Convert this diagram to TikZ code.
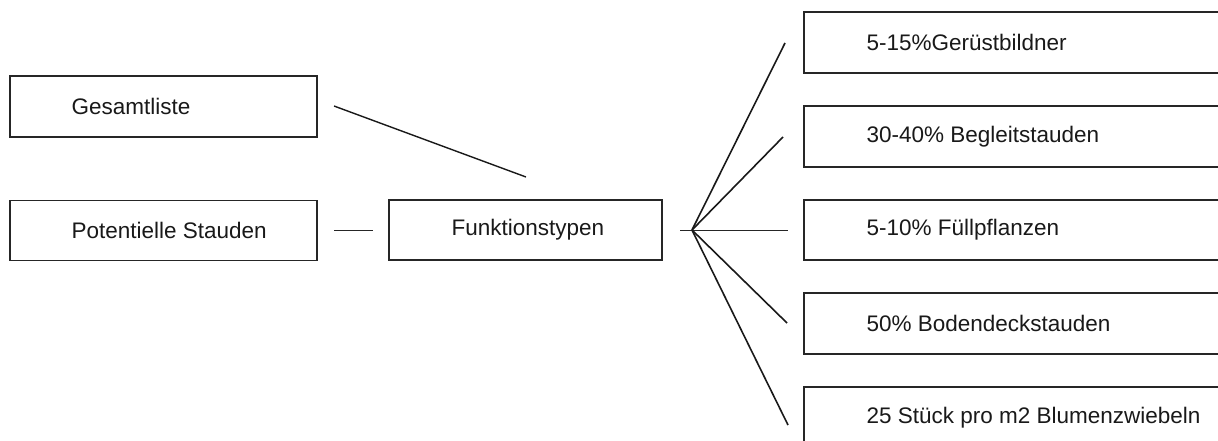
\documentclass[tikz,border=0pt]{standalone}
\usepackage{fontspec}
\setmainfont{Liberation Sans}
\begin{document}
\begin{tikzpicture}[x=1pt,y=-1pt,
  box/.style={draw=black!85, line width=1.3pt, rectangle, inner sep=0pt},
  lbl/.style={anchor=west, inner sep=0pt, font=\fontsize{22.5}{26}\selectfont, text=black!90},
  thin/.style={line width=1pt, draw=black!85},
  ray/.style={line width=1.6pt, draw=black!90}]
\useasboundingbox (0,0) rectangle (1218,441);
\clip (0,0) rectangle (1218,441);

% left column
\node[box, minimum width=307pt, minimum height=61pt] (ges) at (163.5,106.5) {};
\node[lbl] (gesT) at ([xshift=62pt]ges.west) {Gesamtliste};
\node[box, minimum width=307pt, minimum height=60pt] (pot) at (163.5,230.5) {};
\node[lbl] (potT) at ([xshift=62pt]pot.west) {Potentielle Stauden};

% centre
\node[box, minimum width=273pt, minimum height=60pt] (fun) at (525.5,230) {};
\node[lbl] (funT) at ([xshift=63pt]fun.west) {Funktionstypen};

% right column (boxes run off the right edge)
\node[box, minimum width=430pt, minimum height=61pt] (r1) at (1019,42.5) {};
\node[lbl] (r1T) at ([xshift=63pt]r1.west) {5-15\%Gerüstbildner};
\node[box, minimum width=430pt, minimum height=61pt] (r2) at (1019,136.5) {};
\node[lbl] (r2T) at ([xshift=63pt]r2.west) {30-40\% Begleitstauden};
\node[box, minimum width=430pt, minimum height=60pt] (r3) at (1019,230) {};
\node[lbl] (r3T) at ([xshift=63pt]r3.west) {5-10\% Füllpflanzen};
\node[box, minimum width=430pt, minimum height=61pt] (r4) at (1019,323.5) {};
\node[lbl] (r4T) at ([xshift=63pt]r4.west) {50\% Bodendeckstauden};
\node[box, minimum width=430pt, minimum height=61pt] (r5) at (1019,417.5) {};
\node[lbl] (r5T) at ([xshift=63pt]r5.west) {25 Stück pro m2 Blumenzwiebeln};

% connector end points
\coordinate (gesEnd) at (334,106);
\coordinate (funTop) at (526,177);
\coordinate (potEnd) at (334,230.5);
\coordinate (funIn) at (373,230.5);
\coordinate (funOut) at (680,230);
\coordinate (hub) at (692,230);
\coordinate (e1) at (785,43);
\coordinate (e2) at (783,137);
\coordinate (e3) at (788,230);
\coordinate (e4) at (787,323);
\coordinate (e5) at (788,425);

\draw[ray, line width=1.4pt] (gesEnd) -- (funTop);
\draw[thin] (potEnd) -- (funIn);
\draw[thin] (funOut) -- (e3);
\draw[ray] (hub) -- (e1);
\draw[ray] (hub) -- (e2);
\draw[ray] (hub) -- (e4);
\draw[ray] (hub) -- (e5);
\end{tikzpicture}
\end{document}
